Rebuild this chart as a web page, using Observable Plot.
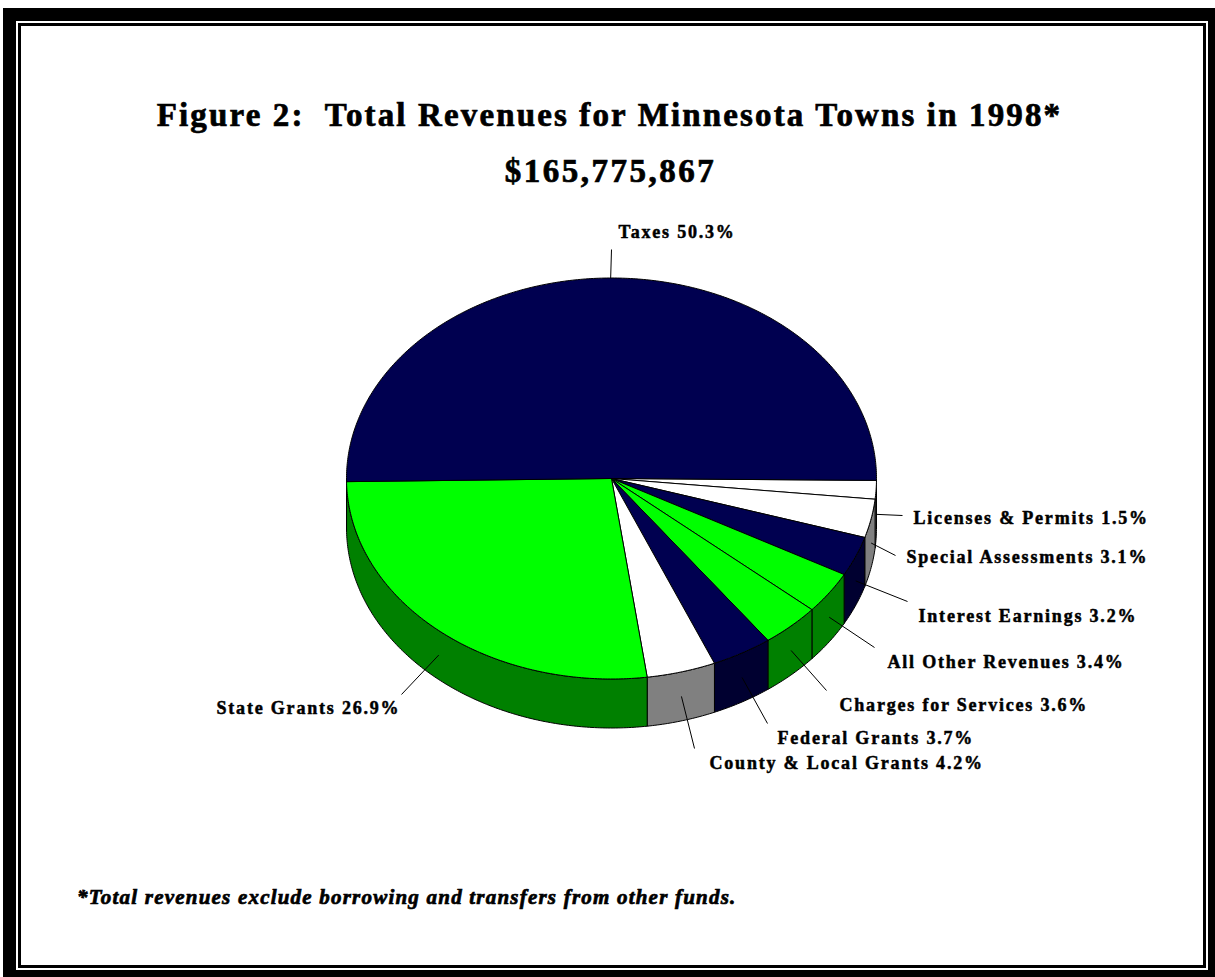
<!DOCTYPE html>
<html>
<head>
<meta charset="utf-8">
<script src="https://cdn.jsdelivr.net/npm/d3@7"></script>
<script src="https://cdn.jsdelivr.net/npm/@observablehq/plot@0.6"></script>
<style>
html,body{margin:0;padding:0;background:#fff;width:1215px;height:977px;overflow:hidden}
.abs{position:absolute;box-sizing:border-box}
#outer{left:3px;top:8px;width:1212px;height:969px;border-style:solid;border-color:#000;border-width:13px 7px 7px 13px}
#inner{left:2px;top:2px;right:2px;bottom:2px;border:3px solid #000}
.t{font-family:"Liberation Serif",serif;font-weight:bold;color:#000;white-space:pre;-webkit-text-stroke:.7px #000}
#title{left:0;width:1219px;top:96px;text-align:center;font-size:33px;letter-spacing:2.14px;line-height:38px}
#sub{left:0;width:1221px;top:152px;text-align:center;font-size:33px;letter-spacing:2.5px;line-height:38px}
#note{left:77px;top:884px;font-size:21px;font-style:italic;letter-spacing:1.21px;line-height:26px}
svg{position:absolute;left:0;top:0}
</style>
</head>
<body>
<div id="outer" class="abs"><div id="inner" class="abs"></div></div>
<div id="title" class="abs t">Figure 2:  Total Revenues for Minnesota Towns in 1998*</div>
<div id="sub" class="abs t">$165,775,867</div>
<div id="note" class="abs t">*Total revenues exclude borrowing and transfers from other funds.</div>
<script>
// Data, clockwise from the east edge of the pie
const categories = ["Licenses & Permits","Special Assessments","Interest Earnings","All Other Revenues","Charges for Services","Federal Grants","County & Local Grants","State Grants","Taxes"];
const shares = [1.5,3.1,3.2,3.4,3.6,3.7,4.2,26.9,50.3];

// Styles
const topColors  = ["#fff","#fff","#000050","#00ff00","#00ff00","#000050","#fff","#00ff00","#000050"];
const sideColors = ["#808080","#808080","#000030","#008000","#008000","#000030","#808080","#008000","#000030"];

// Layout (page pixels)
const W = 1215, H = 977;
const cx = 611, cy = 478, rx = 265, ry = 200.5, depth = 49;
const startPercent = 0.15; // the pie's slight rotation, in percent of a turn
const labelX = [913,906,918,887,839,777,709,216,618];
const labelY = [518,557,616,662,705,738,763,708,232];
const leaderEndX = [902,895,907,874,826,767,694,401,611];
const leaderEndY = [515,555,601,647,690,723,748,694,249];

const TAU = 2 * Math.PI;
const cum = d3.cumsum(shares);
const angle = p => (p + startPercent) / 100 * TAU;
const slices = categories.map((name, i) => ({
  name, share: shares[i],
  t0: angle(i ? cum[i - 1] : 0),
  // the rounded shares fall just short of 100%: the last slice closes the circle
  t1: i === categories.length - 1 ? angle(100) : angle(cum[i]),
  top: topColors[i], side: sideColors[i], i
}));
const px = t => cx + rx * Math.cos(t);
const py = (t, d = 0) => cy + ry * Math.sin(t) + d;
const arc = (a, b) => {
  const n = Math.max(2, Math.ceil((b - a) / 0.01));
  return d3.range(n + 1).map(k => a + (b - a) * k / n);
};

const topPts = slices.flatMap(s => {
  const ring = [[cx, cy], ...arc(s.t0, s.t1).map(t => [px(t), py(t)]), [cx, cy]];
  return ring.map(([x, y]) => ({x, y, id: s.name, c: s.top}));
});
const sidePts = slices.filter(s => s.t0 < Math.PI).flatMap(s => {
  const ts = arc(s.t0, Math.min(s.t1, Math.PI));
  const ring = [
    ...ts.map(t => [px(t), py(t)]),
    ...ts.slice().reverse().map(t => [px(t), py(t, depth)]),
    [px(ts[0]), py(ts[0])]
  ];
  return ring.map(([x, y]) => ({x, y, id: s.name, c: s.side}));
});
const labels = slices.map(s => {
  const m = (s.t0 + s.t1) / 2;
  return {
    text: `${s.name} ${s.share.toFixed(1)}%`,
    x: labelX[s.i], y: labelY[s.i],
    x1: px(m), y1: py(m, Math.sin(m) > 0 ? depth / 2 : 0),
    x2: leaderEndX[s.i], y2: leaderEndY[s.i]
  };
});

const chart = Plot.plot({
  width: W, height: H,
  marginTop: 0, marginRight: 0, marginBottom: 0, marginLeft: 0,
  x: {domain: [0, W], range: [0, W], axis: null},
  y: {domain: [0, H], range: [0, H], axis: null},
  color: {type: "identity"},
  style: {background: "transparent", letterSpacing: "1.8px"},
  marks: [
    Plot.line(sidePts, {x: "x", y: "y", z: "id", fill: "c", stroke: "#000", strokeWidth: 1, curve: "linear"}),
    Plot.line(topPts, {x: "x", y: "y", z: "id", fill: "c", stroke: "#000", strokeWidth: 1, curve: "linear"}),
    Plot.link(labels, {x1: "x1", y1: "y1", x2: "x2", y2: "y2", stroke: "#000", strokeWidth: 1}),
    Plot.text(labels, {
      x: "x", y: "y", text: "text", textAnchor: "start",
      fontFamily: "Liberation Serif", fontWeight: "bold", fontSize: 18,
      fill: "#000", stroke: "#000", strokeWidth: 0.5
    })
  ]
});
document.body.appendChild(chart);
</script>
</body>
</html>
